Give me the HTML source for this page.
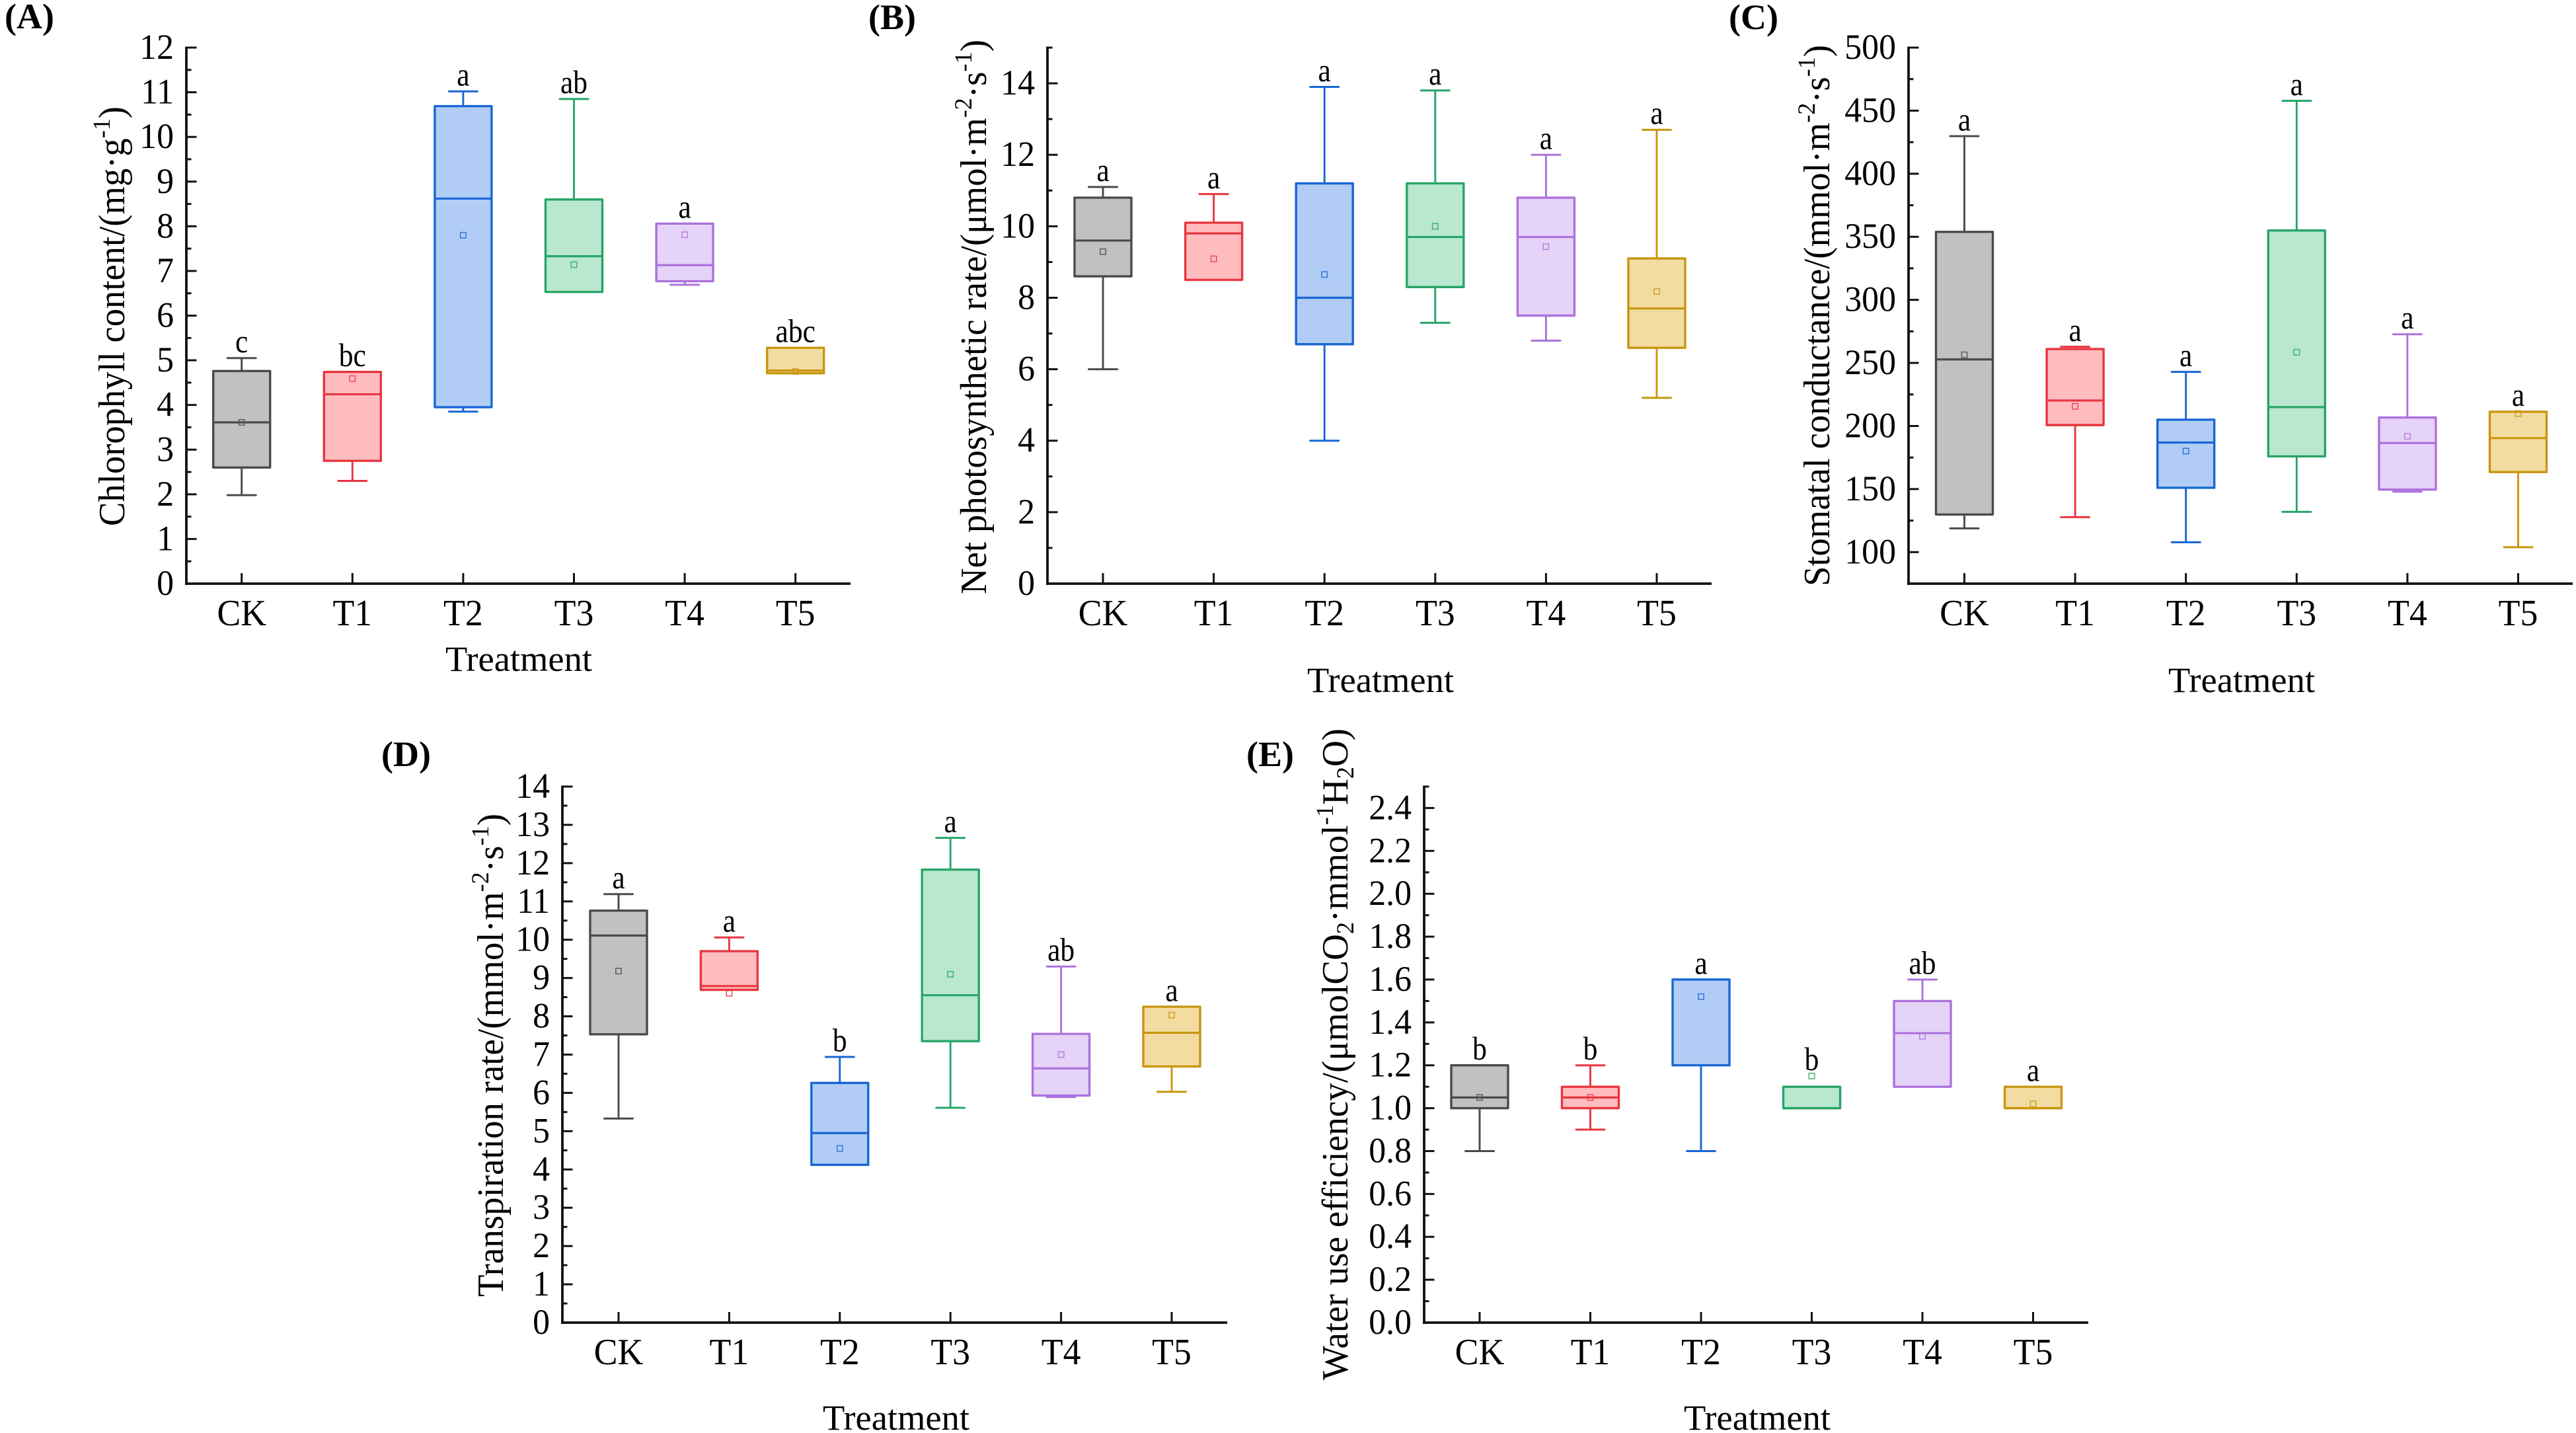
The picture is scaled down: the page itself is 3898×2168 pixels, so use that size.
<!DOCTYPE html>
<html lang="en">
<head>
<meta charset="utf-8">
<title>Leaf physiology box plots by treatment</title>
<style>
html,body{margin:0;padding:0;background:#fff;}
svg{display:block;}
text{font-family:"Liberation Serif",serif;fill:#000;}
.panel-tag{font-size:54px;font-weight:bold;}
.y-title{font-size:56px;}
.x-title{font-size:54.5px;text-anchor:middle;}
.sup{font-size:37px;}
</style>
</head>
<body>
<svg id="figure" xmlns="http://www.w3.org/2000/svg" width="3898" height="2168" viewBox="0 0 3898 2168">
<rect x="0" y="0" width="3898" height="2168" fill="#ffffff"/>

<text class="panel-tag" x="7" y="43">(A)</text>
<text class="panel-tag" x="1314" y="44">(B)</text>
<text class="panel-tag" x="2616" y="44">(C)</text>
<text class="panel-tag" x="577" y="1159">(D)</text>
<text class="panel-tag" x="1886" y="1159">(E)</text>

<text class="y-title" transform="translate(188 796) rotate(-90)" textLength="635" lengthAdjust="spacingAndGlyphs">Chlorophyll content/(mg·g<tspan class="sup" dy="-22">-1</tspan><tspan dy="22">)</tspan></text>
<text class="y-title" transform="translate(1492 899) rotate(-90)" textLength="839" lengthAdjust="spacingAndGlyphs">Net photosynthetic rate/(μmol·m<tspan class="sup" dy="-22">-2</tspan><tspan dy="22">·s</tspan><tspan class="sup" dy="-22">-1</tspan><tspan dy="22">)</tspan></text>
<text class="y-title" transform="translate(2768 887) rotate(-90)" textLength="819" lengthAdjust="spacingAndGlyphs">Stomatal conductance/(mmol·m<tspan class="sup" dy="-22">-2</tspan><tspan dy="22">·s</tspan><tspan class="sup" dy="-22">-1</tspan><tspan dy="22">)</tspan></text>
<text class="y-title" transform="translate(761 1962) rotate(-90)" textLength="731" lengthAdjust="spacingAndGlyphs">Transpiration rate/(mmol·m<tspan class="sup" dy="-22">-2</tspan><tspan dy="22">·s</tspan><tspan class="sup" dy="-22">-1</tspan><tspan dy="22">)</tspan></text>
<text class="y-title" transform="translate(2039 2088) rotate(-90)" textLength="986" lengthAdjust="spacingAndGlyphs">Water use efficiency/(μmolCO<tspan class="sup" dy="9">2</tspan><tspan dy="-9">·mmol</tspan><tspan class="sup" dy="-22">-1</tspan><tspan dy="22">H</tspan><tspan class="sup" dy="9">2</tspan><tspan dy="-9">O)</tspan></text>

<text class="x-title" x="785" y="1015">Treatment</text>
<text class="x-title" x="2089" y="1047">Treatment</text>
<text class="x-title" x="3392" y="1047">Treatment</text>
<text class="x-title" x="1356" y="2163">Treatment</text>
<text class="x-title" x="2659" y="2163">Treatment</text>
</svg>

<script>
// Shared categories
const categories = ['CK', 'T1', 'T2', 'T3', 'T4', 'T5'];

// Panel A: chlorophyll content
const chlorophyllHigh   = [5.05, 4.74, 11.02, 10.85, 8.06, 5.28];
const chlorophyllQ3     = [4.76, 4.74, 10.69, 8.60, 8.06, 5.28];
const chlorophyllMedian = [3.61, 4.24, 8.62, 7.33, 7.13, 4.77];
const chlorophyllQ1     = [2.60, 2.75, 3.95, 6.53, 6.77, 4.71];
const chlorophyllLow    = [1.98, 2.30, 3.85, 6.53, 6.69, 4.71];
const chlorophyllMean   = [3.61, 4.59, 7.80, 7.14, 7.81, 4.75];
const chlorophyllLetters = ['c', 'bc', 'a', 'ab', 'a', 'abc'];
const chlorophyllTicks  = ['0','1','2','3','4','5','6','7','8','9','10','11','12'];
const chlorophyllMinor  = [0.5,1.5,2.5,3.5,4.5,5.5,6.5,7.5,8.5,9.5,10.5,11.5];

// Panel B: net photosynthetic rate
const photoHigh   = [11.1, 10.9, 13.9, 13.8, 12.0, 12.7];
const photoQ3     = [10.8, 10.1, 11.2, 11.2, 10.8, 9.1];
const photoMedian = [9.6, 9.8, 8.0, 9.7, 9.7, 7.7];
const photoQ1     = [8.6, 8.5, 6.7, 8.3, 7.5, 6.6];
const photoLow    = [6.0, 8.5, 4.0, 7.3, 6.8, 5.2];
const photoMean   = [9.29, 9.09, 8.65, 10.0, 9.43, 8.18];
const photoLetters = ['a', 'a', 'a', 'a', 'a', 'a'];
const photoTicks  = ['0','2','4','6','8','10','12','14'];
const photoMinor  = [1,3,5,7,9,11,13,15];

// Panel C: stomatal conductance
const stomatalHigh   = [429.8, 262.8, 242.9, 457.8, 272.7, 211.3];
const stomatalQ3     = [353.9, 261.0, 205.0, 355.0, 206.7, 211.3];
const stomatalMedian = [252.8, 220.2, 186.9, 215.0, 186.5, 190.4];
const stomatalQ1     = [129.8, 200.7, 151.0, 175.9, 149.6, 163.5];
const stomatalLow    = [118.8, 127.7, 107.8, 131.9, 147.9, 103.9];
const stomatalMean   = [256.4, 215.6, 180.1, 258.5, 191.8, 209.9];
const stomatalLetters = ['a', 'a', 'a', 'a', 'a', 'a'];
const stomatalTicks  = ['100','150','200','250','300','350','400','450','500'];
const stomatalMinor  = [125,175,225,275,325,375,425,475];

// Panel D: transpiration rate
const transpHigh   = [11.19, 10.06, 6.94, 12.66, 9.30, 8.25];
const transpQ3     = [10.76, 9.70, 6.26, 11.83, 7.54, 8.25];
const transpMedian = [10.11, 8.79, 4.95, 8.55, 6.64, 7.57];
const transpQ1     = [7.53, 8.69, 4.12, 7.35, 5.93, 6.69];
const transpLow    = [5.33, 8.69, 4.12, 5.61, 5.89, 6.03];
const transpMean   = [9.18, 8.60, 4.55, 9.10, 7.00, 8.03];
const transpLetters = ['a', 'a', 'b', 'a', 'ab', 'a'];
const transpTicks  = ['0','1','2','3','4','5','6','7','8','9','10','11','12','13','14'];
const transpMinor  = [0.5,1.5,2.5,3.5,4.5,5.5,6.5,7.5,8.5,9.5,10.5,11.5,12.5,13.5];

// Panel E: water use efficiency
const wueHigh   = [1.2, 1.2, 1.6, 1.1, 1.6, 1.1];
const wueQ3     = [1.2, 1.1, 1.6, 1.1, 1.5, 1.1];
const wueMedian = [1.05, 1.05, 1.6, 1.0, 1.35, 1.0];
const wueQ1     = [1.0, 1.0, 1.2, 1.0, 1.1, 1.0];
const wueLow    = [0.8, 0.9, 0.8, 1.0, 1.1, 1.0];
const wueMean   = [1.05, 1.05, 1.52, 1.15, 1.335, 1.02];
const wueLetters = ['b', 'b', 'a', 'b', 'ab', 'a'];
const wueTicks  = ['0.0','0.2','0.4','0.6','0.8','1.0','1.2','1.4','1.6','1.8','2.0','2.2','2.4'];
const wueMinor  = [0.1,0.3,0.5,0.7,0.9,1.1,1.3,1.5,1.7,1.9,2.1,2.3,2.5];

// Series colours, in category order
const strokeColors = ['#4a4a4a', '#e8363f', '#1866d4', '#27a567', '#ac72dc', '#c8960f'];
const fillColors   = ['#c1c1c1', '#ffbcbf', '#b1cdf6', '#bae7d0', '#e6d3f8', '#f3dca2'];

const SVG_NS = 'http://www.w3.org/2000/svg';
const figure = document.getElementById('figure');

function shape(parent, tag, attrs) {
  const node = document.createElementNS(SVG_NS, tag);
  for (const key in attrs) node.setAttribute(key, attrs[key]);
  parent.appendChild(node);
  return node;
}

function drawPanel(cfg) {
  const root = shape(figure, 'g', {});
  
  

  const yScale = function (value) {
    return cfg.bottom - (value - cfg.yMin) / (cfg.yMax - cfg.yMin) * (cfg.bottom - cfg.top);
  };
  const xScale = function (index) {
    return cfg.firstX + index * cfg.stepX;
  };

  // boxes
  categories.forEach(function (cat, i) {
    const x = xScale(i);
    const stroke = strokeColors[i];
    const g = shape(root, 'g', {});
    
    

    const yHigh = yScale(cfg.high[i]);
    const yQ3 = yScale(cfg.q3[i]);
    const yMed = yScale(cfg.median[i]);
    const yQ1 = yScale(cfg.q1[i]);
    const yLow = yScale(cfg.low[i]);
    const yMean = yScale(cfg.mean[i]);

    const upper = shape(g, 'line', {x1: x, x2: x, y1: yHigh, y2: yQ3, stroke: stroke, 'stroke-width': 2.9});
    
    

    const lower = shape(g, 'line', {x1: x, x2: x, y1: yQ1, y2: yLow, stroke: stroke, 'stroke-width': 2.9});
    
    

    if (cfg.high[i] > cfg.q3[i]) {
      const capHigh = shape(g, 'line', {x1: x - 21.5, x2: x + 21.5, y1: yHigh, y2: yHigh, stroke: stroke, 'stroke-width': 3, 'stroke-linecap': 'round'});
      
      
    }
    if (cfg.low[i] < cfg.q1[i]) {
      const capLow = shape(g, 'line', {x1: x - 21.5, x2: x + 21.5, y1: yLow, y2: yLow, stroke: stroke, 'stroke-width': 3, 'stroke-linecap': 'round'});
      
      
    }

    const box = shape(g, 'rect', {x: x - 43, y: yQ3, width: 86, height: yQ1 - yQ3, fill: fillColors[i], stroke: stroke, 'stroke-width': 3.4, 'stroke-linejoin': 'round'});
    
    

    const med = shape(g, 'line', {x1: x - 43, x2: x + 43, y1: yMed, y2: yMed, stroke: stroke, 'stroke-width': 3.2});
    
    

    const meanMark = shape(g, 'rect', {x: x - 4.2, y: yMean - 4.2, width: 8.4, height: 8.4, fill: 'none', stroke: stroke, 'stroke-width': 1.6, 'stroke-opacity': 0.8});
    
    

    const letterY = Math.min(yHigh, yMean) - 8.7;
    const letter = shape(g, 'text', {transform: 'translate(' + x + ' ' + letterY + ') scale(0.87 1)', 'text-anchor': 'middle', 'font-size': 50});
    letter.textContent = cfg.letters[i];
    
    
  });

  // y axis
  const yAxis = shape(root, 'g', {});
  
  

  const yLine = shape(yAxis, 'line', {x1: cfg.axisX, x2: cfg.axisX, y1: cfg.top - 1.5, y2: cfg.bottom + 2, stroke: '#111111', 'stroke-width': 3.8});
  
  

  cfg.ticks.forEach(function (label) {
    const y = yScale(parseFloat(label));
    const tick = shape(yAxis, 'line', {x1: cfg.axisX, x2: cfg.axisX + 15.5, y1: y, y2: y, stroke: '#111111', 'stroke-width': 3});
    
    

    const text = shape(yAxis, 'text', {transform: 'translate(' + (cfg.axisX - 19) + ' ' + (y + 17) + ') scale(0.96 1)', 'text-anchor': 'end', 'font-size': 54});
    text.textContent = label;
    
    
  });

  cfg.minor.forEach(function (value) {
    const y = yScale(value);
    const tick = shape(yAxis, 'line', {x1: cfg.axisX, x2: cfg.axisX + 7.5, y1: y, y2: y, stroke: '#111111', 'stroke-width': 3});
    
    
  });

  // x axis
  const xAxis = shape(root, 'g', {});
  
  

  const xLine = shape(xAxis, 'line', {x1: cfg.axisX - 2, x2: cfg.rightX, y1: cfg.bottom, y2: cfg.bottom, stroke: '#111111', 'stroke-width': 3.8});
  
  

  categories.forEach(function (cat, i) {
    const x = xScale(i);
    const tick = shape(xAxis, 'line', {x1: x, x2: x, y1: cfg.bottom, y2: cfg.bottom - 16, stroke: '#111111', 'stroke-width': 3});
    
    

    const text = shape(xAxis, 'text', {transform: 'translate(' + x + ' ' + (cfg.bottom + 63) + ') scale(0.96 1)', 'text-anchor': 'middle', 'font-size': 56});
    text.textContent = cat;
    
    
  });
}

drawPanel({id: 'a', axisX: 282, firstX: 365.7, stepX: 167.6, rightX: 1287, top: 72, bottom: 883, yMin: 0, yMax: 12,
  high: chlorophyllHigh, q3: chlorophyllQ3, median: chlorophyllMedian, q1: chlorophyllQ1, low: chlorophyllLow, mean: chlorophyllMean,
  letters: chlorophyllLetters, ticks: chlorophyllTicks, minor: chlorophyllMinor});

drawPanel({id: 'b', axisX: 1585, firstX: 1669, stepX: 167.6, rightX: 2590, top: 72, bottom: 883, yMin: 0, yMax: 15,
  high: photoHigh, q3: photoQ3, median: photoMedian, q1: photoQ1, low: photoLow, mean: photoMean,
  letters: photoLetters, ticks: photoTicks, minor: photoMinor});

drawPanel({id: 'c', axisX: 2888, firstX: 2972.5, stepX: 167.6, rightX: 3893, top: 72, bottom: 883, yMin: 75, yMax: 500,
  high: stomatalHigh, q3: stomatalQ3, median: stomatalMedian, q1: stomatalQ1, low: stomatalLow, mean: stomatalMean,
  letters: stomatalLetters, ticks: stomatalTicks, minor: stomatalMinor});

drawPanel({id: 'd', axisX: 851, firstX: 936, stepX: 167.4, rightX: 1857, top: 1190, bottom: 2001, yMin: 0, yMax: 14,
  high: transpHigh, q3: transpQ3, median: transpMedian, q1: transpQ1, low: transpLow, mean: transpMean,
  letters: transpLetters, ticks: transpTicks, minor: transpMinor});

drawPanel({id: 'e', axisX: 2155, firstX: 2239, stepX: 167.5, rightX: 3160, top: 1190, bottom: 2001, yMin: 0, yMax: 2.5,
  high: wueHigh, q3: wueQ3, median: wueMedian, q1: wueQ1, low: wueLow, mean: wueMean,
  letters: wueLetters, ticks: wueTicks, minor: wueMinor});
</script>
</body>
</html>
